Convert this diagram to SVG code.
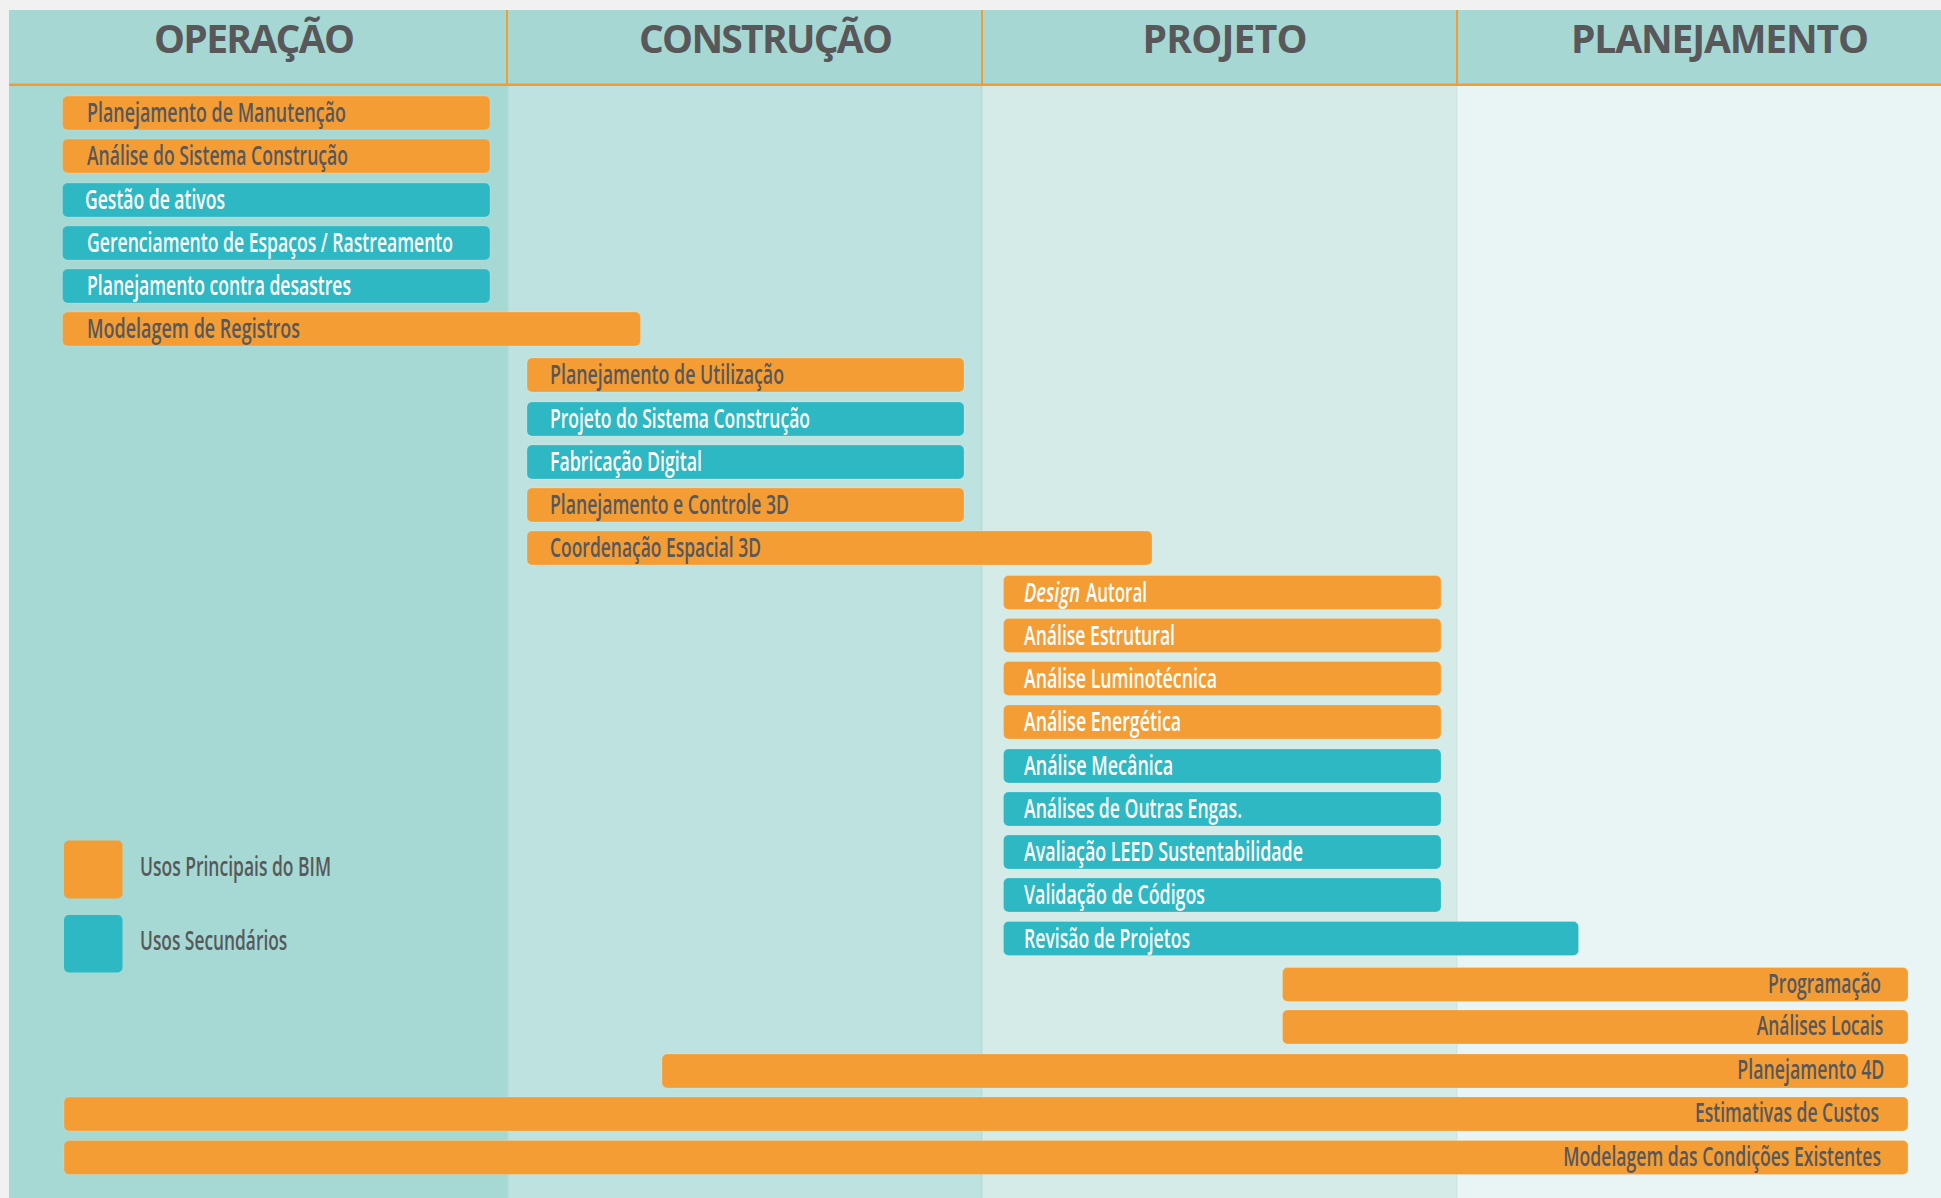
<svg xmlns="http://www.w3.org/2000/svg" width="1941" height="1198" viewBox="0 0 1941 1198">
<style>
.o{fill:#F49D35}
.t{fill:#2DB8C4}
.bar{stroke:#ffffff;stroke-opacity:0.18;stroke-width:1}
.lbl{font-family:"Open Sans","Liberation Sans",sans-serif;font-size:27px;font-weight:600}
.r{text-anchor:end}
.dk{fill:#58585A}
.wh{fill:#FFFFFF}
.hd{font-family:"Open Sans","Liberation Sans",sans-serif;font-size:39px;font-weight:700;fill:#58585A;text-anchor:middle}
.div{fill:#F39C33}
</style>
<rect x="0" y="0" width="1941" height="1198" fill="#F1F1F1"/>
<g id="columns">
<rect x="9" y="10" width="498" height="1188" fill="#A6D8D4"/>
<rect x="507" y="10" width="475" height="1188" fill="#BEE2DF"/>
<rect x="982" y="10" width="475" height="1188" fill="#D4EBE8"/>
<rect x="1457" y="10" width="484" height="1188" fill="#E8F5F4"/>
<rect x="507" y="86" width="1.5" height="1112" fill="#9FCFCB" opacity="0.5"/>
<rect x="981" y="86" width="1.5" height="1112" fill="#A8D6D2" opacity="0.5"/>
<rect x="1456" y="86" width="1.5" height="1112" fill="#BFE0DD" opacity="0.5"/>
</g>
<g id="header">
<rect x="9" y="10" width="1932" height="74" fill="#A6D7D3"/>
<rect x="9" y="83.5" width="1932" height="2.5" class="div"/>
<rect x="506" y="10" width="2" height="75" class="div"/>
<rect x="981" y="10" width="2" height="75" class="div"/>
<rect x="1456" y="10" width="2" height="75" class="div"/>
<text class="hd" x="254.5" y="53" textLength="201">OPERAÇÃO</text>
<text class="hd" x="766" y="53" textLength="254">CONSTRUÇÃO</text>
<text class="hd" x="1225" y="53" textLength="165">PROJETO</text>
<text class="hd" x="1720" y="53" textLength="298">PLANEJAMENTO</text>
</g>
<g id="bars">
<g id="n1"><rect class="o bar" x="62.5" y="96" width="427.5" height="34" rx="5"/><text class="lbl dk" transform="translate(87 122) scale(0.7 1)" textLength="370" lengthAdjust="spacingAndGlyphs">Planejamento de Manutenção</text></g>
<g id="n2"><rect class="o bar" x="62.5" y="139" width="427.5" height="34" rx="5"/><text class="lbl dk" transform="translate(87 165) scale(0.7 1)" textLength="372.9" lengthAdjust="spacingAndGlyphs">Análise do Sistema Construção</text></g>
<g id="n3"><rect class="t bar" x="62.5" y="183" width="427.5" height="34" rx="5"/><text class="lbl wh" transform="translate(85 209) scale(0.7 1)" textLength="200" lengthAdjust="spacingAndGlyphs">Gestão de ativos</text></g>
<g id="n4"><rect class="t bar" x="62.5" y="226" width="427.5" height="34" rx="5"/><text class="lbl wh" transform="translate(87 252) scale(0.7 1)" textLength="522.9" lengthAdjust="spacingAndGlyphs">Gerenciamento de Espaços / Rastreamento</text></g>
<g id="n5"><rect class="t bar" x="62.5" y="269" width="427.5" height="34" rx="5"/><text class="lbl wh" transform="translate(87 295) scale(0.7 1)" textLength="377.1" lengthAdjust="spacingAndGlyphs">Planejamento contra desastres</text></g>
<g id="n6"><rect class="o bar" x="62.5" y="312" width="578" height="34" rx="5"/><text class="lbl dk" transform="translate(87 338) scale(0.7 1)" textLength="304.3" lengthAdjust="spacingAndGlyphs">Modelagem de Registros</text></g>

<g id="n7"><rect class="o bar" x="527" y="358" width="437" height="34" rx="5"/><text class="lbl dk" transform="translate(550 384) scale(0.7 1)" textLength="334.3" lengthAdjust="spacingAndGlyphs">Planejamento de Utilização</text></g>
<g id="n8"><rect class="t bar" x="527" y="402" width="437" height="34" rx="5"/><text class="lbl wh" transform="translate(550 428) scale(0.7 1)" textLength="371.4" lengthAdjust="spacingAndGlyphs">Projeto do Sistema Construção</text></g>
<g id="n9"><rect class="t bar" x="527" y="445" width="437" height="34" rx="5"/><text class="lbl wh" transform="translate(550 471) scale(0.7 1)" textLength="217.1" lengthAdjust="spacingAndGlyphs">Fabricação Digital</text></g>
<g id="n10"><rect class="o bar" x="527" y="488" width="437" height="34" rx="5"/><text class="lbl dk" transform="translate(550 514) scale(0.7 1)" textLength="341.4" lengthAdjust="spacingAndGlyphs">Planejamento e Controle 3D</text></g>
<g id="n11"><rect class="o bar" x="527" y="531" width="625" height="34" rx="5"/><text class="lbl dk" transform="translate(550 557) scale(0.7 1)" textLength="301.4" lengthAdjust="spacingAndGlyphs">Coordenação Espacial 3D</text></g>

<g id="n12"><rect class="o bar" x="1003.5" y="575.5" width="437.5" height="34" rx="5"/><text class="lbl wh" transform="translate(1024 601.5) scale(0.7 1)" textLength="80" lengthAdjust="spacingAndGlyphs" font-style="italic">Design</text><text class="lbl wh" transform="translate(1086 601.5) scale(0.7 1)" textLength="87.1" lengthAdjust="spacingAndGlyphs">Autoral</text></g>
<g id="n13"><rect class="o bar" x="1003.5" y="618.5" width="437.5" height="34" rx="5"/><text class="lbl wh" transform="translate(1024 644.5) scale(0.7 1)" textLength="215.7" lengthAdjust="spacingAndGlyphs">Análise Estrutural</text></g>
<g id="n14"><rect class="o bar" x="1003.5" y="661.5" width="437.5" height="34" rx="5"/><text class="lbl wh" transform="translate(1024 687.5) scale(0.7 1)" textLength="275.7" lengthAdjust="spacingAndGlyphs">Análise Luminotécnica</text></g>
<g id="n15"><rect class="o bar" x="1003.5" y="705" width="437.5" height="34" rx="5"/><text class="lbl wh" transform="translate(1024 731) scale(0.7 1)" textLength="224.3" lengthAdjust="spacingAndGlyphs">Análise Energética</text></g>
<g id="n16"><rect class="t bar" x="1003.5" y="749" width="437.5" height="34" rx="5"/><text class="lbl wh" transform="translate(1024 775) scale(0.7 1)" textLength="212.9" lengthAdjust="spacingAndGlyphs">Análise Mecânica</text></g>
<g id="n17"><rect class="t bar" x="1003.5" y="792" width="437.5" height="34" rx="5"/><text class="lbl wh" transform="translate(1024 818) scale(0.7 1)" textLength="311.4" lengthAdjust="spacingAndGlyphs">Análises de Outras Engas.</text></g>
<g id="n18"><rect class="t bar" x="1003.5" y="835" width="437.5" height="34" rx="5"/><text class="lbl wh" transform="translate(1024 861) scale(0.7 1)" textLength="398.6" lengthAdjust="spacingAndGlyphs">Avaliação LEED Sustentabilidade</text></g>
<g id="n19"><rect class="t bar" x="1003.5" y="878" width="437.5" height="34" rx="5"/><text class="lbl wh" transform="translate(1024 904) scale(0.7 1)" textLength="258.6" lengthAdjust="spacingAndGlyphs">Validação de Códigos</text></g>
<g id="n20"><rect class="t bar" x="1003.5" y="921.5" width="575" height="34" rx="5"/><text class="lbl wh" transform="translate(1024 947.5) scale(0.7 1)" textLength="237.1" lengthAdjust="spacingAndGlyphs">Revisão de Projetos</text></g>

<g id="n21"><rect class="o bar" x="1282.5" y="967.5" width="625.5" height="34" rx="5"/><text class="lbl dk r" transform="translate(1881 992.5) scale(0.7 1)" textLength="161.4" lengthAdjust="spacingAndGlyphs">Programação</text></g>
<g id="n22"><rect class="o bar" x="1282.5" y="1010" width="625.5" height="34" rx="5"/><text class="lbl dk r" transform="translate(1883.3 1035) scale(0.7 1)" textLength="180.9" lengthAdjust="spacingAndGlyphs">Análises Locais</text></g>
<g id="n23"><rect class="o bar" x="662" y="1054" width="1246" height="34" rx="5"/><text class="lbl dk r" transform="translate(1884.3 1079) scale(0.7 1)" textLength="210" lengthAdjust="spacingAndGlyphs">Planejamento 4D</text></g>
<g id="n24"><rect class="o bar" x="64" y="1097" width="1844" height="34" rx="5"/><text class="lbl dk r" transform="translate(1879 1122) scale(0.7 1)" textLength="262.9" lengthAdjust="spacingAndGlyphs">Estimativas de Custos</text></g>
<g id="n25"><rect class="o bar" x="64" y="1140.5" width="1844" height="34" rx="5"/><text class="lbl dk r" transform="translate(1881 1165.5) scale(0.7 1)" textLength="453.9" lengthAdjust="spacingAndGlyphs">Modelagem das Condições Existentes</text></g>
</g>
<g id="legend">
<g id="legend-primary"><rect class="o" x="64" y="840.5" width="58.5" height="58" rx="5"/><text class="lbl dk" transform="translate(140 876) scale(0.7 1)" textLength="272.9" lengthAdjust="spacingAndGlyphs">Usos Principais do BIM</text></g>
<g id="legend-secondary"><rect class="t" x="64" y="915" width="58.5" height="57.5" rx="5"/><text class="lbl dk" transform="translate(140 950) scale(0.7 1)" textLength="210.4" lengthAdjust="spacingAndGlyphs">Usos Secundários</text></g>
</g>
<g id="connectors"/>
</svg>
